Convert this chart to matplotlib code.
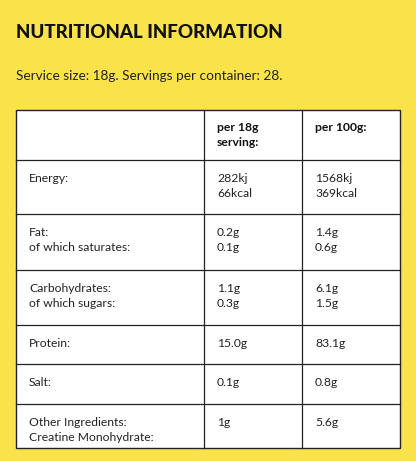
import matplotlib.pyplot as plt

plt.rcParams['font.family'] = ['Lato', 'DejaVu Sans']

# --- data ---
title = "NUTRITIONAL INFORMATION"
subtitle = "Service size: 18g. Servings per container: 28."
headers = ["", "per 18g\nserving:", "per 100g:"]
nutrients = ["Energy:", "Fat:\nof which saturates:", "Carbohydrates:\nof which sugars:",
             "Protein:", "Salt:", "Other Ingredients:\nCreatine Monohydrate:"]
per_serving = ["282kj\n66kcal", "0.2g\n0.1g", "1.1g\n0.3g", "15.0g", "0.1g", "1g"]
per_100g = ["1568kj\n369kcal", "1.4g\n0.6g", "6.1g\n1.5g", "83.1g", "0.8g", "5.6g"]

# --- layout (pixels) ---
W, H = 416, 461
bg = '#FAE34A'
col_x = [16, 204, 302, 400]
row_y = [110, 160, 214, 270, 325, 364, 404, 448]

fig = plt.figure(figsize=(W / 100, H / 100), dpi=100, facecolor=bg)
ax = fig.add_axes([0, 0, 1, 1])
ax.set_xlim(0, W)
ax.set_ylim(H, 0)
ax.axis('off')

ax.text(16, 32, title, fontsize=13.5, fontweight='black', va='center', color='#111111')
ax.text(16, 76, subtitle, fontsize=9.8, va='center', color='#222222')

ax.add_patch(plt.Rectangle((col_x[0], row_y[0]), col_x[-1] - col_x[0], row_y[-1] - row_y[0],
                           facecolor='white', edgecolor='#222222', lw=1))
for y in row_y[1:-1]:
    ax.plot([col_x[0], col_x[-1]], [y, y], color='#222222', lw=0.9)
for x in col_x[1:-1]:
    ax.plot([x, x], [row_y[0], row_y[-1]], color='#222222', lw=0.9)

pad = 13
for j, h in enumerate(headers):
    ax.text(col_x[j] + pad, row_y[0] + 12, h, fontsize=8.7, fontweight='bold',
            va='top', linespacing=1.4, color='#111111')

for i in range(len(nutrients)):
    top = row_y[i + 1] + 13
    for j, val in enumerate([nutrients[i], per_serving[i], per_100g[i]]):
        ax.text(col_x[j] + pad, top, val, fontsize=8.7, va='top',
                linespacing=1.4, color='#222222')

fig.savefig('out.png', dpi=100, facecolor=bg)
